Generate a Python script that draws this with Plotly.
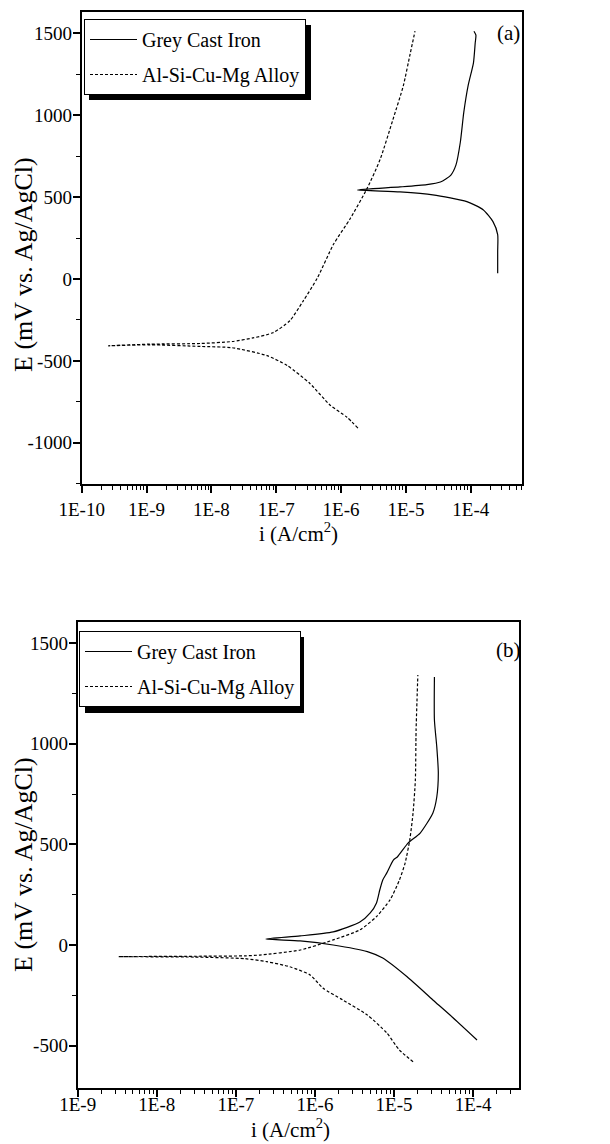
import plotly.graph_objects as go

# ---------------- data: panel (a) ----------------
a_iron_i = [2.6e-4, 2.6e-4, 2.6e-4, 2.2e-4, 1.55e-4, 8.7e-5, 2.6e-5, 8.1e-6, 1.78e-6,
            8.1e-6, 2.1e-5, 3.4e-5, 4.9e-5, 5.9e-5, 6.9e-5, 7.8e-5, 9.1e-5, 1.1e-4, 1.17e-4, 1.2e-4, 1.12e-4]
a_iron_E = [35, 168, 271, 350, 423, 472, 514, 532, 544,
            562, 576, 592, 633, 695, 835, 1017, 1180, 1320, 1440, 1489, 1513]

a_al_i = [1.82e-6, 1.23e-6, 6.8e-7, 3.3e-7, 1.48e-7, 7.2e-8, 2.1e-8, 6.8e-9, 1.12e-9, 2.6e-10,
          1.12e-9, 6.8e-9, 2.1e-8, 4.4e-8, 8.9e-8, 1.62e-7, 2.6e-7, 4.3e-7, 7.6e-7, 1.38e-6,
          2.5e-6, 4.0e-6, 6.3e-6, 9.1e-6, 1.17e-5, 1.38e-5]
a_al_E = [-911, -844, -771, -638, -529, -468, -420, -412, -402, -408,
          -398, -394, -382, -360, -328, -255, -135, 5, 210, 368,
          550, 730, 973, 1179, 1380, 1513]

# ---------------- data: panel (b) ----------------
b_iron_i = [1.12e-4, 5.1e-5, 3.1e-5, 1.45e-5, 7.2e-6, 4.6e-6, 1.7e-6, 6.5e-7, 2.4e-7,
            6.5e-7, 1.7e-6, 3.7e-6, 5.0e-6, 6.0e-6, 6.6e-6, 7.2e-6, 8.1e-6, 9.8e-6,
            1.1e-5, 1.51e-5, 2.14e-5, 3.1e-5, 3.47e-5, 3.63e-5, 3.47e-5, 3.24e-5, 3.24e-5]
b_iron_E = [-472, -348, -273, -157, -65, -33, 0, 20, 30,
            45, 65, 114, 159, 209, 273, 323, 358, 422,
            437, 507, 556, 656, 735, 854, 984, 1118, 1331]

b_al_i = [1.74e-5, 1.17e-5, 8.1e-6, 4.6e-6, 2.24e-6, 1.26e-6, 8.7e-7, 4.8e-7, 2.45e-7, 1.3e-7,
          3.0e-8, 3.3e-9, 3.0e-8, 1.3e-7, 2.0e-7, 6.5e-7, 1.7e-6, 3.7e-6, 6.0e-6, 8.9e-6,
          1.17e-5, 1.38e-5, 1.58e-5, 1.74e-5, 1.86e-5, 1.9e-5, 2.0e-5]
b_al_E = [-580, -522, -437, -348, -273, -214, -149, -108, -83, -68,
          -60, -58, -56, -54, -50, -25, 25, 75, 141, 224,
          323, 407, 522, 656, 820, 1068, 1341]

series_names = ["Grey Cast Iron", "Al-Si-Cu-Mg Alloy"]
a_xtick_vals = [1e-10, 1e-9, 1e-8, 1e-7, 1e-6, 1e-5, 1e-4]
a_xtick_text = ["1E-10", "1E-9", "1E-8", "1E-7", "1E-6", "1E-5", "1E-4"]
b_xtick_vals = [1e-9, 1e-8, 1e-7, 1e-6, 1e-5, 1e-4]
b_xtick_text = ["1E-9", "1E-8", "1E-7", "1E-6", "1E-5", "1E-4"]
a_ytick_vals = [-1000, -500, 0, 500, 1000, 1500]
a_ytick_text = ["-1000", "-500", "0", "500", "1000", "1500"]
b_ytick_vals = [-500, 0, 500, 1000, 1500]
b_ytick_text = ["-500", "0", "500", "1000", "1500"]
x_title = "i (A/cm<sup>2</sup>)"
y_title = "E (mV vs. Ag/AgCl)"
panel_labels = ["(a)", "(b)"]

W, H = 610, 1144
FONT = "Liberation Serif"

def px(x):
    return x / W

def py(y):
    return 1 - y / H

def minor_log(vals):
    out = []
    for d in vals + [vals[-1] * 10]:
        for k in range(2, 10):
            out.append(d * k)
    return out

fig = go.Figure()
solid = dict(color="black", width=1.2, smoothing=0.6)
dashed = dict(color="black", width=1.2, dash="3px,2px", smoothing=0.6)

fig.add_trace(go.Scatter(x=a_iron_i, y=a_iron_E, mode="lines", line=solid, name=series_names[0],
                         xaxis="x", yaxis="y", legend="legend", legendgroup="a1", line_shape="spline"))
fig.add_trace(go.Scatter(x=a_al_i, y=a_al_E, mode="lines", line=dashed, name=series_names[1],
                         xaxis="x", yaxis="y", legend="legend", legendgroup="a2", line_shape="spline"))
fig.add_trace(go.Scatter(x=b_iron_i, y=b_iron_E, mode="lines", line=solid, name=series_names[0],
                         xaxis="x2", yaxis="y2", legend="legend2", legendgroup="b1", line_shape="spline"))
fig.add_trace(go.Scatter(x=b_al_i, y=b_al_E, mode="lines", line=dashed, name=series_names[1],
                         xaxis="x2", yaxis="y2", legend="legend2", legendgroup="b2", line_shape="spline"))

tickfont = dict(family=FONT, size=19, color="black")

def xaxis(domain, anchor, rng, vals, text, standoff):
    return dict(type="log", domain=domain, anchor=anchor, range=rng, automargin=False,
                tickvals=vals, ticktext=text, ticks="outside", ticklen=7, tickwidth=1.5,
                tickcolor="black", showline=True, linecolor="black", linewidth=2, mirror=True,
                showgrid=False, zeroline=False, tickfont=tickfont, ticklabelstandoff=standoff,
                minor=dict(ticks="outside", ticklen=4, tickwidth=1.2, tickcolor="black",
                           tickvals=minor_log(vals), showgrid=False))

def yaxis(domain, anchor, rng, vals, text):
    return dict(domain=domain, anchor=anchor, range=rng, tickvals=vals, ticktext=text,
                automargin=False, ticks="outside", ticklen=7, tickwidth=1.5, tickcolor="black",
                showline=True, linecolor="black", linewidth=2, mirror=True,
                showgrid=False, zeroline=False, tickfont=tickfont, ticklabelstandoff=-3,
                minor=dict(ticks="outside", ticklen=4, tickwidth=1.2, tickcolor="black",
                           tickvals=[v + 250 for v in vals] + [vals[0] - 250], showgrid=False))

legend_common = dict(xanchor="left", yanchor="top", bgcolor="white", bordercolor="black",
                     borderwidth=1, font=dict(family=FONT, size=20, color="black"),
                     itemwidth=47, tracegroupgap=6)

fig.update_layout(
    width=W, height=H, margin=dict(l=0, r=0, t=0, b=0),
    paper_bgcolor="white", plot_bgcolor="white",
    font=dict(family=FONT, color="black"),
    xaxis=xaxis([px(81.7), px(522)], "y", [-10, -3.21], a_xtick_vals, a_xtick_text, 0),
    yaxis=yaxis([py(484), py(11.7)], "x", [-1252, 1632], a_ytick_vals, a_ytick_text),
    xaxis2=xaxis([px(77.7), px(519)], "y2", [-9, -3.42], b_xtick_vals, b_xtick_text, -9),
    yaxis2=yaxis([py(1088.3), py(622.3)], "x2", [-712, 1603], b_ytick_vals, b_ytick_text),
    legend=dict(x=px(84), y=py(19), **legend_common),
    legend2=dict(x=px(79), y=py(631), **legend_common),
    showlegend=True,
)

# legend drop shadows
fig.add_shape(type="rect", xref="paper", yref="paper", x0=px(89), x1=px(311), y0=py(100), y1=py(25),
              fillcolor="black", line=dict(width=0), layer="above")
fig.add_shape(type="rect", xref="paper", yref="paper", x0=px(85), x1=px(304), y0=py(713), y1=py(637),
              fillcolor="black", line=dict(width=0), layer="above")

center = dict(xref="paper", yref="paper", showarrow=False, xanchor="center", yanchor="middle")

# axis titles
for (xc, yc) in [(298, 533), (290, 1128)]:
    fig.add_annotation(text=x_title, x=px(xc), y=py(yc),
                       font=dict(family=FONT, size=21, color="black"), **center)
for (xc, yc) in [(23, 265), (23, 865)]:
    fig.add_annotation(text=y_title, x=px(xc), y=py(yc), textangle=-90,
                       font=dict(family=FONT, size=26, color="black"), **center)

for lab, (xc, yc) in zip(panel_labels, [(508, 33), (508, 650)]):
    fig.add_annotation(text=lab, x=px(xc), y=py(yc),
                       font=dict(family=FONT, size=21, color="black"), **center)

fig.write_html("out.html", config={"displayModeBar": False},
               post_script="document.body.style.margin='0px';document.body.style.overflow='hidden';")
